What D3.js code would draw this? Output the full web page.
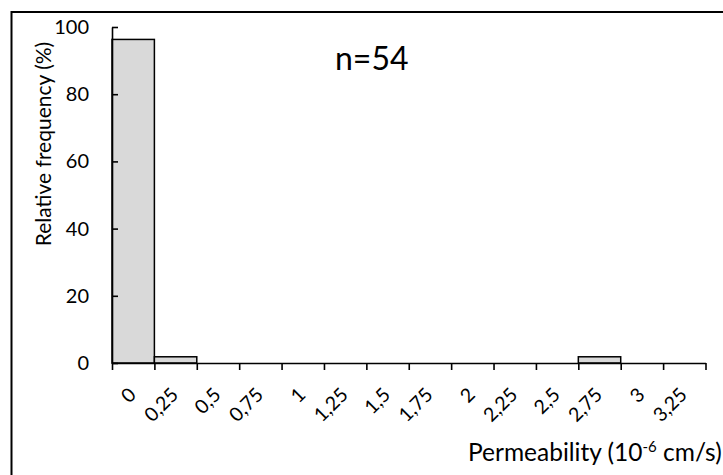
<!DOCTYPE html>
<html>
<head>
<meta charset="utf-8">
<script src="https://cdn.jsdelivr.net/npm/d3@7"></script>
<style>
  body { margin: 0; background: #fff; }
  svg { display: block; font-family: Lato, "Open Sans", sans-serif; }
</style>
</head>
<body>
<div id="chart"></div>
<script>
// --------------------------------------------------------
// DATA
// --------------------------------------------------------
const binStarts = [0, 0.25, 0.5, 0.75, 1, 1.25, 1.5, 1.75, 2, 2.25, 2.5, 2.75, 3, 3.25];
const binLabels = ["0", "0,25", "0,5", "0,75", "1", "1,25", "1,5", "1,75", "2", "2,25", "2,5", "2,75", "3", "3,25"];
const frequency = [96.3, 1.85, 0, 0, 0, 0, 0, 0, 0, 0, 0, 1.85, 0, 0];
const yTicks = [0, 20, 40, 60, 80, 100];
const binWidth = 0.25;
const sampleLabel = "n=54";

// --------------------------------------------------------
// VARIABLES
// --------------------------------------------------------
const width = 723;
const height = 475;
const plot = { left: 112, right: 705.5, top: 27, bottom: 363 };

const svg = d3
  .select("#chart")
  .append("svg")
  .attr("width", width)
  .attr("height", height);

// outer frame (right / bottom edges fall outside the picture)
svg.append("rect")
  .attr("x", 11.5)
  .attr("y", 12)
  .attr("width", 900)
  .attr("height", 700)
  .attr("fill", "none")
  .attr("stroke", "#000")
  .attr("stroke-width", 2);

// scales
const x = d3.scaleLinear()
  .domain([binStarts[0], binStarts[binStarts.length - 1] + binWidth])
  .range([plot.left, plot.right]);

const y = d3.scaleLinear().domain([0, 100]).range([plot.bottom, plot.top]);

// bars (empty bins are not drawn)
const bins = binStarts.map((s, i) => ({ start: s, label: binLabels[i], value: frequency[i] }));

svg.append("g")
  .selectAll("rect")
  .data(bins.filter((d) => d.value > 0))
  .join("rect")
  .attr("x", (d) => x(d.start))
  .attr("y", (d) => y(d.value))
  .attr("width", (d) => x(d.start + binWidth) - x(d.start))
  .attr("height", (d) => y(0) - y(d.value))
  .attr("fill", "#d9d9d9")
  .attr("stroke", "#000")
  .attr("stroke-width", 1.5);

// y axis, ticks pointing inward
const yAxis = svg.append("g")
  .attr("transform", `translate(${plot.left},0)`)
  .attr("font-size", 20)
  .call(d3.axisLeft(y).tickValues(yTicks).tickSizeInner(-6).tickSizeOuter(0).tickPadding(23));

yAxis.attr("font-size", 20).attr("font-family", "Lato, sans-serif");
yAxis.selectAll("text").style("font-size", "20px").attr("fill", "#000");

// x axis: ticks on bin edges
const edges = binStarts.concat(binStarts[binStarts.length - 1] + binWidth);
svg.append("g")
  .attr("transform", `translate(0,${plot.bottom})`)
  .call(d3.axisBottom(x).tickValues(edges).tickSize(7).tickSizeOuter(0).tickFormat(""));

svg.selectAll(".domain, .tick line")
  .attr("stroke", "#000")
  .attr("stroke-width", 1.6);

// rotated category labels at bin centres
svg.append("g")
  .selectAll("text")
  .data(bins)
  .join("text")
  .attr("transform", (d) => `translate(${x(d.start + binWidth / 2) + 4},396) rotate(-45)`)
  .attr("text-anchor", "end")
  .style("font-size", "19.5px")
  .attr("fill", "#000")
  .text((d) => d.label);

// axis titles
svg.append("text")
  .attr("transform", "translate(51,144) rotate(-90)")
  .attr("text-anchor", "middle")
  .attr("font-size", 21)
  .attr("fill", "#000")
  .text("Relative frequency (%)");

const xTitle = svg.append("text")
  .attr("x", 468)
  .attr("y", 461)
  .attr("font-size", 24.5)
  .attr("fill", "#000");
xTitle.append("tspan").text("Permeability (10");
xTitle.append("tspan").attr("dy", -9).attr("font-size", 15).text("-6");
xTitle.append("tspan").attr("dy", 9).text(" cm/s)");

// sample size annotation
svg.append("text")
  .attr("x", 335)
  .attr("y", 70)
  .attr("font-size", 32)
  .attr("fill", "#000")
  .text(sampleLabel);
</script>
</body>
</html>
